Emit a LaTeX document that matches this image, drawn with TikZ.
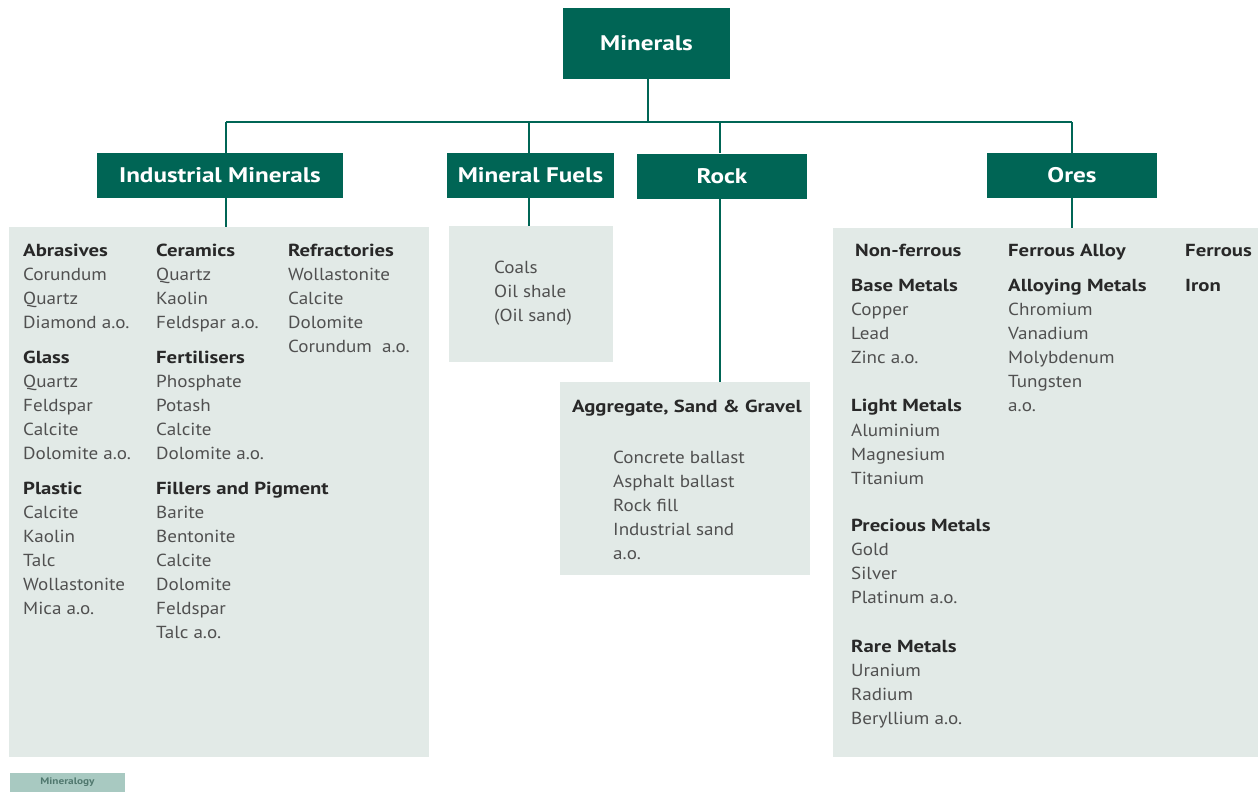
\documentclass[tikz,border=0pt]{standalone}
\usepackage{fontspec}
\setmainfont{PT Sans}[FakeStretch=1.095,BoldFeatures={FakeStretch=1.19}]
\definecolor{mteal}{RGB}{0,101,85}
\definecolor{mpanel}{RGB}{226,234,231}
\definecolor{mtag}{RGB}{168,201,193}
\definecolor{mtagtext}{RGB}{80,120,110}
\definecolor{mbody}{RGB}{80,80,80}
\definecolor{mhead}{RGB}{40,40,40}
\newcommand\mlist[4]{%
  \foreach \t [count=\i] in {#4}
    \node[itemtext] (#1\i) at (#2,{#3+24*(\i-1)}) {\t};}
\begin{document}
\begin{tikzpicture}[x=1bp,y=-1bp,
  topbox/.style={fill=mteal,text=white,font=\bfseries\fontsize{21.2}{24}\selectfont,inner sep=0pt},
  catbox/.style={topbox,minimum height=45bp},
  panel/.style={fill=mpanel,inner sep=0pt},
  conn/.style={draw=mteal,line width=2.6bp},
  itemtext/.style={anchor=base west,yshift=-6bp,inner sep=0pt,text=mbody,font=\fontsize{17.5}{20}\selectfont},
  headtext/.style={itemtext,text=mhead,font=\bfseries\fontsize{17.5}{20}\selectfont}]
\useasboundingbox (0,0) rectangle (1258,792);
\fill[white] (0,0) rectangle (1258,792);
% panels
\node[panel,minimum width=420bp,minimum height=530bp] (indp) at (219,492) {};
\node[panel,minimum width=164bp,minimum height=136bp] (fuep) at (531,294) {};
\node[panel,minimum width=250bp,minimum height=193bp] (aggp) at (685,478.5) {};
\node[panel,minimum width=425bp,minimum height=529bp] (orep) at (1045.5,492.5) {};
\node[fill=mtag,inner sep=0pt,minimum width=115bp,minimum height=19bp,text=mtagtext,font=\bfseries\fontsize{9.5}{10}\selectfont] (tag) at (67.5,782.5) {Mineralogy};
% dark boxes
\node[topbox,minimum width=167bp,minimum height=71bp] (min) at (646.5,43.5) {Minerals};
\node[catbox,minimum width=246bp] (ind) at (220,175.5) {Industrial Minerals};
\node[catbox,minimum width=167bp] (fue) at (530.5,175.5) {Mineral Fuels};
\node[catbox,minimum width=170bp] (roc) at (722,176) {Rock};
\node[catbox,minimum width=170bp] (ore) at (1072,175.5) {Ores};
% connectors
\coordinate (jM) at (648,122);
\coordinate (jI) at (226,122);
\coordinate (jF) at (529,122);
\coordinate (jR) at (720,122);
\coordinate (jO) at (1072,122);
\draw[conn] (min.south -| jM) -- (jM);
\draw[conn] (jI) -- (jO);
\draw[conn] (jI) -- (jI |- ind.north);
\draw[conn] (jF) -- (jF |- fue.north);
\draw[conn] (jR) -- (jR |- roc.north);
\draw[conn] (jO) -- (jO |- ore.north);
\draw[conn] (ind.south -| jI) -- (indp.north -| jI);
\draw[conn] (fue.south -| jF) -- (fuep.north -| jF);
\draw[conn] (roc.south -| jR) -- (aggp.north -| jR);
\draw[conn] (ore.south -| jO) -- (orep.north -| jO);
% industrial minerals
\node[headtext] (hAbr) at (23,250) {Abrasives};
\mlist{abr}{23}{274}{Corundum,Quartz,Diamond a.o.}
\node[headtext] (hGla) at (23,357) {Glass};
\mlist{gla}{23}{381}{Quartz,Feldspar,Calcite,Dolomite a.o.}
\node[headtext] (hPla) at (23,488) {Plastic};
\mlist{pla}{23}{512}{Calcite,Kaolin,Talc,Wollastonite,Mica a.o.}
\node[headtext] (hCer) at (156,250) {Ceramics};
\mlist{cer}{156}{274}{Quartz,Kaolin,Feldspar a.o.}
\node[headtext] (hFer) at (156,357) {Fertilisers};
\mlist{fer}{156}{381}{Phosphate,Potash,Calcite,Dolomite a.o.}
\node[headtext] (hFil) at (156,488) {Fillers and Pigment};
\mlist{fil}{156}{512}{Barite,Bentonite,Calcite,Dolomite,Feldspar,Talc a.o.}
\node[headtext] (hRef) at (288,250) {Refractories};
\mlist{ref}{288}{274}{Wollastonite,Calcite,Dolomite,Corundum\ \ a.o.}
% fuels
\mlist{fu}{494}{267}{Coals,Oil shale,(Oil sand)}
% aggregate
\node[headtext] (hAgg) at (572,406) {Aggregate, Sand \& Gravel};
\mlist{agg}{613}{457}{Concrete ballast,Asphalt ballast,Rock fill,Industrial sand,a.o.}
% ores
\node[headtext] (hNon) at (855,250) {Non-ferrous};
\node[headtext] (hBas) at (851,285) {Base Metals};
\mlist{bas}{851}{309}{Copper,Lead,Zinc a.o.}
\node[headtext] (hLig) at (851,405) {Light Metals};
\mlist{lig}{851}{430}{Aluminium,Magnesium,Titanium}
\node[headtext] (hPre) at (851,525) {Precious Metals};
\mlist{pre}{851}{549}{Gold,Silver,Platinum a.o.}
\node[headtext] (hRar) at (851,646) {Rare Metals};
\mlist{rar}{851}{670}{Uranium,Radium,Beryllium a.o.}
\node[headtext] (hFA) at (1008,250) {Ferrous Alloy};
\node[headtext] (hAll) at (1008,285) {Alloying Metals};
\mlist{all}{1008}{309}{Chromium,Vanadium,Molybdenum,Tungsten,a.o.}
\node[headtext] (hFe) at (1185,250) {Ferrous};
\node[headtext] (hIro) at (1185,285) {Iron};
\end{tikzpicture}
\end{document}
